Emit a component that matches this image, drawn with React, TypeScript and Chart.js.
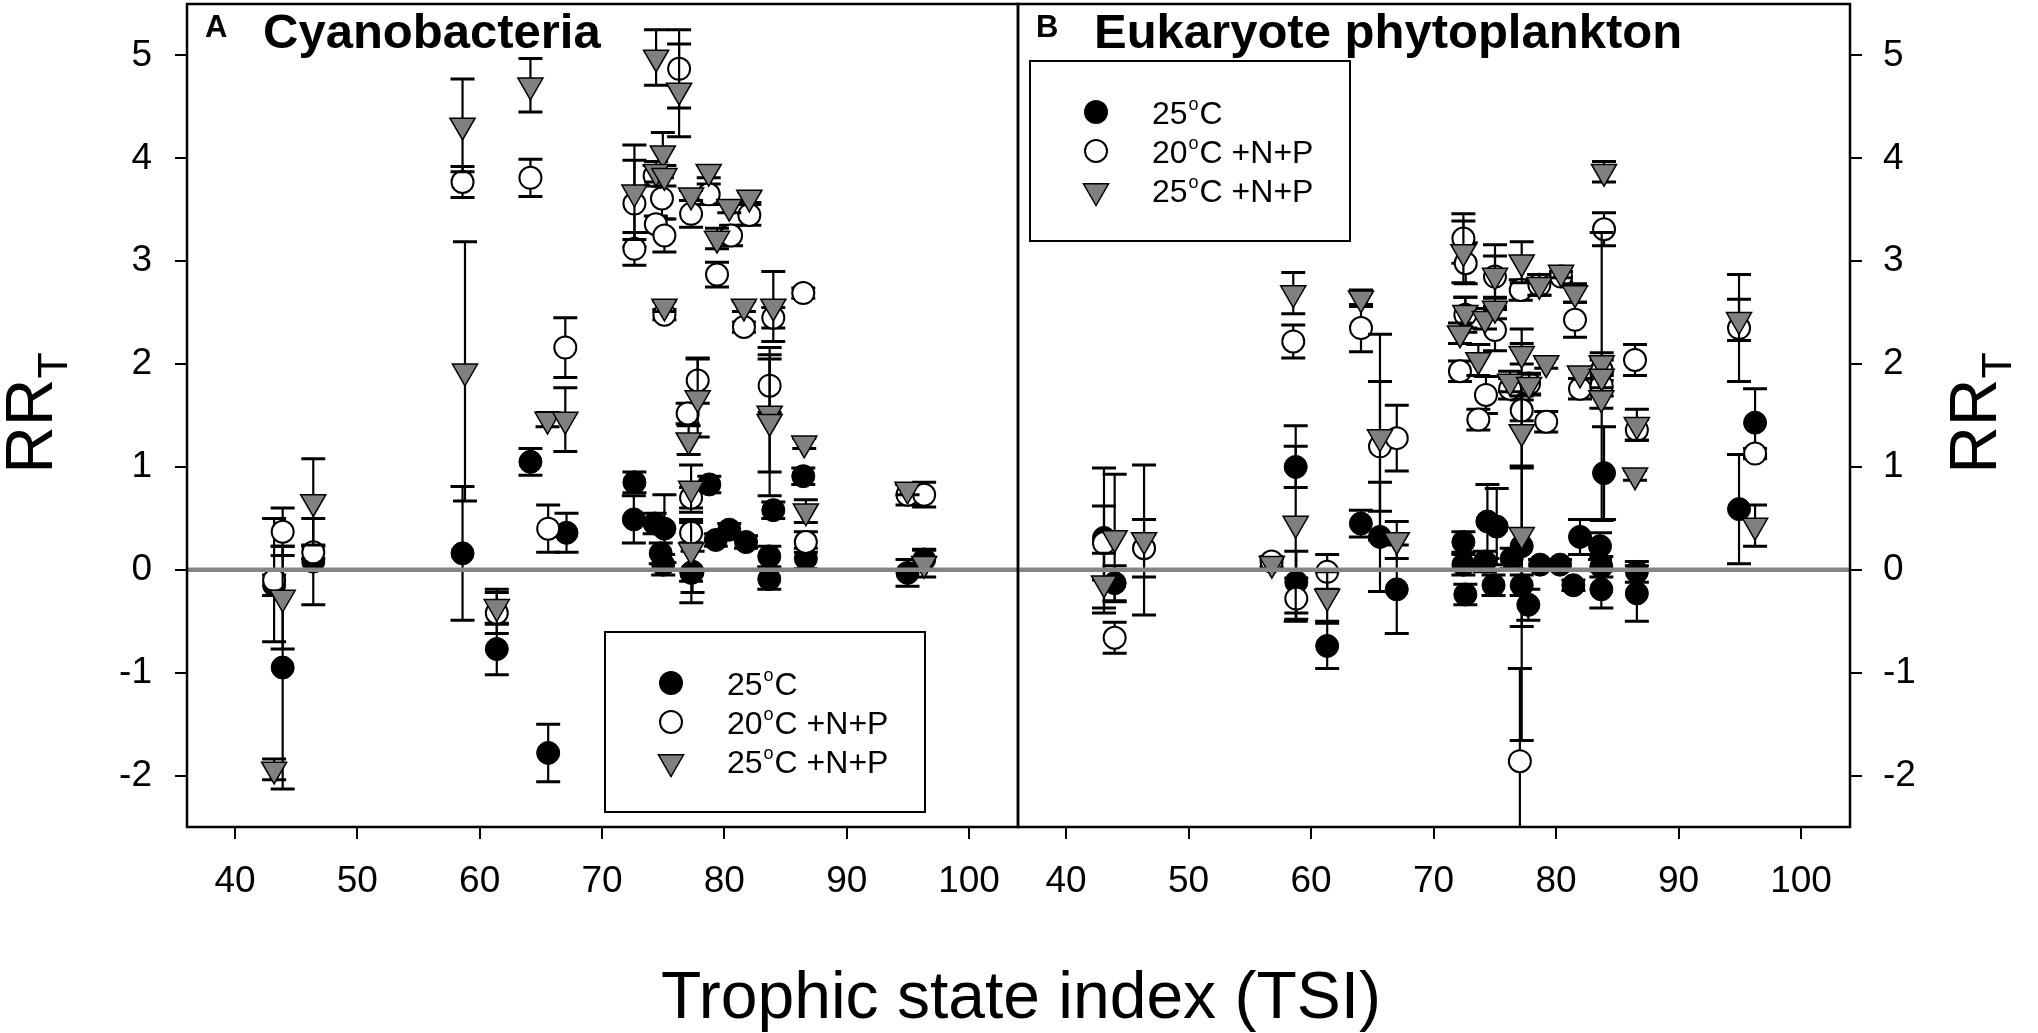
import React, { useEffect, useRef } from 'react';
import { Chart, registerables } from 'chart.js';

Chart.register(...registerables);

const FONT = '"Liberation Sans", Arial, Helvetica, sans-serif';

// ---- tick labels / text ----
const xTicks = [40, 50, 60, 70, 80, 90, 100];
const yTicks = [-2, -1, 0, 1, 2, 3, 4, 5];
const seriesNames = ['25°C', '20°C +N+P', '25°C +N+P'];
const legendTemps = ['25', '20', '25'];
const legendRest = ['C', 'C +N+P', 'C +N+P'];
const panelLetters = ['A', 'B'];
const panelTitles = ['Cyanobacteria', 'Eukaryote phytoplankton'];
const xTitle = 'Trophic state index (TSI)';
const yTitleMain = 'RR';
const yTitleSub = 'T';

// ---- Panel A: Cyanobacteria ----
const aBlackX = [43.2, 43.9, 46.4, 58.6, 61.4, 64.15, 65.6, 67.1, 72.65, 72.6, 74.3, 75.1, 74.8, 75.0, 77.4, 77.3, 78.77, 79.3, 80.4, 81.77, 83.67, 83.67, 84.0, 86.45, 86.66, 94.97, 96.33];
const aBlackY = [-0.15, -0.95, 0.08, 0.16, -0.77, 1.05, -1.78, 0.36, 0.85, 0.49, 0.45, 0.40, 0.16, 0.05, -0.02, -0.03, 0.83, 0.29, 0.39, 0.27, 0.13, -0.09, 0.58, 0.91, 0.11, -0.03, 0.10];
const aBlackErr = [0.1, 1.18, 0.42, 0.65, 0.25, 0.13, 0.28, 0.19, 0.1, 0.23, 0.1, 0.33, 0.1, 0.1, 0.2, 0.29, 0.08, 0.06, 0.06, 0.06, 0.1, 0.1, 0.08, 0.08, 0.1, 0.13, 0.1];

const aOpenX = [43.2, 43.9, 46.4, 58.6, 61.4, 64.15, 65.6, 67.0, 72.65, 72.65, 74.3, 74.9, 74.4, 75.1, 75.1, 76.3, 77.28, 78.72, 80.55, 82.04, 79.4, 81.6, 84.0, 86.45, 77.82, 77.0, 77.28, 77.28, 83.7, 86.66, 94.97, 96.33];
const aOpenY = [-0.10, 0.37, 0.17, 3.77, -0.42, 3.81, 0.40, 2.16, 3.56, 3.12, 3.83, 3.61, 3.36, 3.25, 2.48, 4.87, 3.46, 3.65, 3.25, 3.45, 2.87, 2.36, 2.45, 2.69, 1.84, 1.52, 0.70, 0.36, 1.79, 0.27, 0.73, 0.73];
const aOpenErr = [0.6, 0.23, 0.06, 0.15, 0.2, 0.18, 0.23, 0.29, 0.42, 0.16, 0.1, 0.2, 0.08, 0.16, 0.05, 0.38, 0.13, 0.1, 0.1, 0.1, 0.12, 0.05, 0.1, 0.05, 0.22, 0.1, 0.1, 0.1, 0.26, 0.1, 0.1, 0.12];

const aTriX = [43.2, 43.9, 46.4, 58.6, 58.8, 61.4, 64.15, 65.55, 67.0, 72.65, 74.42, 76.3, 74.97, 74.42, 75.1, 77.28, 78.72, 80.4, 82.04, 79.4, 75.1, 81.6, 84.0, 77.82, 77.08, 77.28, 77.28, 83.7, 83.7, 86.53, 86.66, 94.97, 96.33];
const aTriY = [-1.94, -0.27, 0.66, 4.32, 1.93, -0.36, 4.71, 1.46, 1.46, 3.67, 4.98, 4.66, 4.05, 3.87, 3.83, 3.64, 3.87, 3.53, 3.62, 3.22, 2.56, 2.56, 2.56, 1.67, 1.26, 0.79, 0.19, 1.52, 1.44, 1.23, 0.57, 0.78, 0.06];
const aTriErr = [0.1, 0.5, 0.42, 0.45, 1.26, 0.17, 0.26, 0.07, 0.31, 0.46, 0.27, 0.45, 0.2, 0.1, 0.1, 0.05, 0.06, 0.06, 0.05, 0.1, 0.05, 0.05, 0.34, 0.38, 0.14, 0.23, 0.3, 0.57, 0.72, 0.05, 0.11, 0.05, 0.13];

// ---- Panel B: Eukaryote phytoplankton ----
const bBlackX = [43.1, 43.97, 58.75, 58.8, 61.32, 64.07, 65.63, 67.0, 72.44, 72.44, 72.6, 74.4, 75.16, 74.2, 74.9, 76.38, 77.2, 77.2, 77.74, 78.7, 80.33, 81.42, 81.96, 83.59, 83.92, 83.7, 83.7, 86.6, 86.6, 94.94, 96.25];
const bBlackY = [0.31, -0.13, 1.00, -0.12, -0.74, 0.45, 0.32, -0.19, 0.27, 0.05, -0.24, 0.47, 0.42, 0.08, -0.15, 0.11, 0.23, -0.15, -0.34, 0.05, 0.05, -0.15, 0.32, 0.23, 0.94, 0.03, -0.19, -0.02, -0.23, 0.59, 1.43];
const bBlackErr = [0.68, 0.17, 0.2, 0.3, 0.22, 0.13, 0.53, 0.43, 0.1, 0.1, 0.1, 0.36, 0.37, 0.1, 0.1, 0.1, 0.78, 0.1, 0.15, 0.05, 0.05, 0.05, 0.17, 0.13, 0.45, 0.1, 0.18, 0.1, 0.27, 0.53, 0.33];

const bOpenX = [43.1, 43.97, 46.37, 56.78, 58.55, 58.8, 61.32, 64.08, 65.63, 67.0, 72.44, 72.63, 72.6, 72.16, 75.02, 75.02, 74.28, 73.66, 77.12, 77.2, 77.8, 76.25, 78.64, 80.41, 81.55, 81.96, 79.2, 83.92, 83.73, 83.73, 86.45, 86.6, 94.94, 96.25, 77.05];
const bOpenY = [0.26, -0.66, 0.21, 0.08, 2.22, -0.28, -0.02, 2.35, 1.20, 1.28, 3.22, 2.98, 2.48, 1.93, 2.85, 2.33, 1.70, 1.46, 2.72, 1.55, 1.81, 1.76, 2.77, 2.85, 2.43, 1.76, 1.44, 3.31, 1.94, 1.79, 2.04, 1.36, 2.35, 1.13, -1.86];
const bOpenErr = [0.36, 0.15, 0.28, 0.05, 0.16, 0.2, 0.17, 0.23, 0.63, 0.32, 0.24, 0.2, 0.17, 0.1, 0.2, 0.2, 0.18, 0.1, 0.1, 0.1, 0.1, 0.1, 0.1, 0.05, 0.17, 0.1, 0.1, 0.16, 0.1, 0.1, 0.15, 0.1, 0.52, 0.05, 0.9];

const bTriX = [43.1, 43.97, 46.37, 56.8, 58.55, 58.75, 61.32, 64.08, 65.63, 67.0, 72.44, 72.6, 72.16, 75.02, 74.2, 75.02, 73.66, 77.2, 77.2, 76.25, 77.8, 77.2, 77.2, 78.64, 80.41, 81.55, 79.2, 81.96, 83.92, 83.73, 83.73, 83.7, 86.6, 86.45, 94.94, 96.25];
const bTriY = [-0.13, 0.31, 0.29, 0.06, 2.69, 0.45, -0.26, 2.64, 1.29, 0.29, 3.09, 2.50, 2.30, 2.86, 2.44, 2.54, 2.04, 2.99, 2.10, 1.83, 1.80, 1.34, 0.34, 2.77, 2.89, 2.69, 2.01, 1.91, 3.87, 2.01, 1.88, 1.67, 1.41, 0.92, 2.43, 0.43];
const bTriErr = [0.29, 0.62, 0.73, 0.05, 0.2, 0.95, 0.24, 0.08, 1.0, 0.18, 0.3, 0.15, 0.1, 0.3, 0.1, 0.1, 0.15, 0.2, 0.1, 0.1, 0.1, 0.35, 2.0, 0.1, 0.05, 0.09, 0.05, 0.05, 0.1, 0.1, 1.4, 0.1, 0.15, 0.05, 0.2, 0.2];

// ---- layout constants ----
const W = 2038;
const H = 1033;
const X_MIN = 36.08;
const X_MAX = 104;
const Y_MIN = -2.5;
const Y_MAX = 5.5;
const TRI_GRAY = '#808080';
const ZERO_GRAY = '#858585';

const toPoints = (xs: number[], ys: number[]) => xs.map((x, i) => ({ x, y: ys[i] }));

function drawTriangle(ctx: CanvasRenderingContext2D, x: number, y: number, r: number) {
  ctx.beginPath();
  ctx.moveTo(x, y + r);
  ctx.lineTo(x - 0.866 * r, y - 0.5 * r);
  ctx.lineTo(x + 0.866 * r, y - 0.5 * r);
  ctx.closePath();
  ctx.fillStyle = TRI_GRAY;
  ctx.fill();
  ctx.strokeStyle = '#000';
  ctx.lineWidth = 1.5;
  ctx.stroke();
}

function drawTempLabel(ctx: CanvasRenderingContext2D, x: number, base: number, num: string, rest: string) {
  ctx.fillStyle = '#000';
  ctx.textAlign = 'left';
  ctx.textBaseline = 'alphabetic';
  ctx.font = `32px ${FONT}`;
  ctx.fillText(num, x, base);
  const w = ctx.measureText(num).width;
  ctx.font = `18px ${FONT}`;
  ctx.fillText('o', x + w + 1, base - 14);
  const wo = ctx.measureText('o').width;
  ctx.font = `32px ${FONT}`;
  ctx.fillText(rest, x + w + wo + 2, base);
}

function drawYLabel(ctx: CanvasRenderingContext2D, bx: number, cy: number) {
  ctx.save();
  ctx.translate(bx, cy);
  ctx.rotate(-Math.PI / 2);
  ctx.fillStyle = '#000';
  ctx.textAlign = 'left';
  ctx.textBaseline = 'alphabetic';
  ctx.font = `66px ${FONT}`;
  const w1 = ctx.measureText(yTitleMain).width;
  ctx.font = `43px ${FONT}`;
  const w2 = ctx.measureText(yTitleSub).width;
  const start = -(w1 + w2) / 2;
  ctx.font = `66px ${FONT}`;
  ctx.fillText(yTitleMain, start, 0);
  ctx.font = `43px ${FONT}`;
  ctx.fillText(yTitleSub, start + w1, 15);
  ctx.restore();
}

const errorBarPlugin = {
  id: 'errbars',
  beforeDatasetDraw(chart: any, args: any) {
    const ds = chart.data.datasets[args.index];
    const errs: number[] | undefined = ds.errors;
    if (!errs) return;
    const ctx: CanvasRenderingContext2D = chart.ctx;
    const a = chart.chartArea;
    const yS = chart.scales.y;
    ctx.save();
    ctx.beginPath();
    ctx.rect(a.left, a.top, a.right - a.left, a.bottom - a.top);
    ctx.clip();
    ctx.strokeStyle = '#000';
    args.meta.data.forEach((el: any, i: number) => {
      const d = ds.data[i];
      const e = errs[i];
      const yt = yS.getPixelForValue(d.y + e);
      const yb = yS.getPixelForValue(d.y - e);
      ctx.lineWidth = 2.2;
      ctx.beginPath();
      ctx.moveTo(el.x, yt);
      ctx.lineTo(el.x, yb);
      ctx.stroke();
      ctx.lineWidth = 3;
      ctx.beginPath();
      ctx.moveTo(el.x - 12, yt);
      ctx.lineTo(el.x + 12, yt);
      ctx.moveTo(el.x - 12, yb);
      ctx.lineTo(el.x + 12, yb);
      ctx.stroke();
    });
    ctx.restore();
  },
};

const legendPos = [
  { dx: 418, top: 632 },
  { dx: 12, top: 61 },
];
const yLabelBaseX = [52, 1996];

const decoPlugin = {
  id: 'deco',
  afterDatasetsDraw(chart: any) {
    const ctx: CanvasRenderingContext2D = chart.ctx;
    const a = chart.chartArea;
    const y0 = chart.scales.y.getPixelForValue(0);
    ctx.save();
    ctx.strokeStyle = ZERO_GRAY;
    ctx.lineWidth = 4.5;
    ctx.beginPath();
    ctx.moveTo(a.left, y0);
    ctx.lineTo(a.right, y0);
    ctx.stroke();
    ctx.strokeStyle = '#000';
    ctx.lineWidth = 2.5;
    ctx.strokeRect(a.left, a.top, a.right - a.left, a.bottom - a.top);
    ctx.restore();
  },
  afterDraw(chart: any) {
    const p: number = chart.options.plugins.deco.panel;
    const ctx: CanvasRenderingContext2D = chart.ctx;
    const a = chart.chartArea;
    ctx.save();
    ctx.fillStyle = '#000';
    ctx.textAlign = 'left';
    ctx.textBaseline = 'alphabetic';
    // panel letter + title
    ctx.font = `bold 31px ${FONT}`;
    ctx.fillText(panelLetters[p], a.left + 18, 37);
    ctx.font = `bold 49px ${FONT}`;
    ctx.fillText(panelTitles[p], a.left + 76, 48);
    // legend
    const lp = legendPos[p];
    const lx = a.left + lp.dx;
    const ly = lp.top;
    ctx.strokeStyle = '#000';
    ctx.lineWidth = 2;
    ctx.strokeRect(lx, ly, 320, 180);
    const rows = [51, 90, 129];
    rows.forEach((dy, i) => {
      const mx = lx + 66;
      const my = ly + dy;
      if (i === 0) {
        ctx.beginPath();
        ctx.arc(mx, my, 12, 0, Math.PI * 2);
        ctx.fillStyle = '#000';
        ctx.fill();
      } else if (i === 1) {
        ctx.beginPath();
        ctx.arc(mx, my, 11, 0, Math.PI * 2);
        ctx.fillStyle = '#fff';
        ctx.fill();
        ctx.lineWidth = 2;
        ctx.strokeStyle = '#000';
        ctx.stroke();
      } else {
        drawTriangle(ctx, mx, my + 1, 14.5);
      }
      drawTempLabel(ctx, lx + 122, my + 11.5, legendTemps[i], legendRest[i]);
    });
    // y title
    drawYLabel(ctx, yLabelBaseX[p], 413);
    // x title (drawn once, centred between panels)
    if (p === 0) {
      ctx.fillStyle = '#000';
      ctx.textAlign = 'center';
      ctx.textBaseline = 'alphabetic';
      ctx.font = `66px ${FONT}`;
      ctx.fillText(xTitle, 1021, 1018);
    }
    ctx.restore();
  },
};

function makeChart(canvas: HTMLCanvasElement, panel: number) {
  const isA = panel === 0;
  const blk = isA ? [aBlackX, aBlackY, aBlackErr] : [bBlackX, bBlackY, bBlackErr];
  const opn = isA ? [aOpenX, aOpenY, aOpenErr] : [bOpenX, bOpenY, bOpenErr];
  const tri = isA ? [aTriX, aTriY, aTriErr] : [bTriX, bTriY, bTriErr];
  const tickFont = { family: FONT, size: 37 };
  const grid = {
    display: true,
    drawOnChartArea: false,
    drawTicks: true,
    tickLength: 12,
    tickColor: '#000',
    tickWidth: 2,
    color: '#000',
    lineWidth: 2,
  };
  return new Chart(canvas, {
    type: 'scatter',
    data: {
      datasets: [
        {
          label: seriesNames[0],
          data: toPoints(blk[0], blk[1]),
          errors: blk[2],
          pointStyle: 'circle',
          pointRadius: 11.5,
          pointHoverRadius: 11.5,
          pointBackgroundColor: '#000',
          pointBorderColor: '#000',
          pointBorderWidth: 1,
          order: 3,
        } as any,
        {
          label: seriesNames[1],
          data: toPoints(opn[0], opn[1]),
          errors: opn[2],
          pointStyle: 'circle',
          pointRadius: 11,
          pointHoverRadius: 11,
          pointBackgroundColor: '#fff',
          pointBorderColor: '#000',
          pointBorderWidth: 2,
          order: 2,
        } as any,
        {
          label: seriesNames[2],
          data: toPoints(tri[0], tri[1]),
          errors: tri[2],
          pointStyle: 'triangle',
          pointRotation: 180,
          pointRadius: 14.5,
          pointHoverRadius: 14.5,
          pointBackgroundColor: TRI_GRAY,
          pointBorderColor: '#000',
          pointBorderWidth: 1.5,
          order: 1,
        } as any,
      ],
    },
    options: {
      animation: false,
      responsive: false,
      maintainAspectRatio: false,
      events: [],
      layout: {
        autoPadding: false,
        padding: isA
          ? { top: 4, left: 0, right: W - 1018, bottom: 0 }
          : { top: 4, left: 1018, right: 0, bottom: 0 },
      },
      plugins: {
        legend: { display: false },
        tooltip: { enabled: false },
        deco: { panel },
      } as any,
      scales: {
        x: {
          type: 'linear',
          min: X_MIN,
          max: X_MAX,
          afterBuildTicks: (s: any) => {
            s.ticks = xTicks.map((v) => ({ value: v }));
          },
          afterFit: (s: any) => {
            s.height = 206;
            s.paddingLeft = 0;
            s.paddingRight = 0;
          },
          grid,
          border: { display: false },
          ticks: {
            font: tickFont,
            color: '#000',
            padding: 21,
            maxRotation: 0,
            autoSkip: false,
            callback: (v: any) => String(v),
          },
        },
        y: {
          type: 'linear',
          position: isA ? 'left' : 'right',
          min: Y_MIN,
          max: Y_MAX,
          afterBuildTicks: (s: any) => {
            s.ticks = yTicks.map((v) => ({ value: v }));
          },
          afterFit: (s: any) => {
            s.width = isA ? 187 : 188;
            s.paddingTop = 0;
            s.paddingBottom = 0;
          },
          grid,
          border: { display: false },
          ticks: {
            font: tickFont,
            color: '#000',
            padding: isA ? 23 : 21,
            autoSkip: false,
            callback: (v: any) => String(v),
          },
        },
      },
    } as any,
    plugins: [errorBarPlugin, decoPlugin],
  });
}

export default function App() {
  const refA = useRef<HTMLCanvasElement>(null);
  const refB = useRef<HTMLCanvasElement>(null);
  useEffect(() => {
    document.body.style.margin = '0';
    document.body.style.overflow = 'hidden';
    const cA = makeChart(refA.current as HTMLCanvasElement, 0);
    const cB = makeChart(refB.current as HTMLCanvasElement, 1);
    return () => {
      cA.destroy();
      cB.destroy();
    };
  }, []);
  const cs: React.CSSProperties = { position: 'absolute', left: 0, top: 0, width: W, height: H };
  return (
    <div style={{ position: 'absolute', left: 0, top: 0, width: W, height: H, background: '#fff' }}>
      <canvas ref={refA} width={W} height={H} style={cs} />
      <canvas ref={refB} width={W} height={H} style={cs} />
    </div>
  );
}
